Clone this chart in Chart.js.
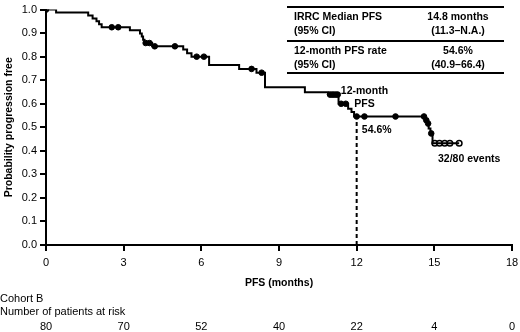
<!DOCTYPE html>
<html>
<head>
<meta charset="utf-8">
<script src="https://cdn.jsdelivr.net/npm/chart.js@4.4.1/dist/chart.umd.min.js"></script>
<style>
  body { margin: 0; background: #fff; }
  #wrap { width: 520px; height: 332px; position: relative; }
</style>
</head>
<body>
<div id="wrap"><canvas id="pfsChart"></canvas></div>
<script>
// Kaplan-Meier steps (months, survival after the drop)
var stepTimes = [0, 0.39, 1.63, 1.8, 1.95, 2.05, 2.15, 3.24, 3.63, 3.7, 3.75, 3.8, 4.1, 5.3, 5.45, 5.62, 6.3, 7.46, 8.13, 8.46, 10.0, 10.9, 11.3, 11.67, 11.8, 11.9, 14.66, 14.72, 14.78, 14.85, 14.93, 15.96];
var stepSurv = [1.0, 0.9875, 0.975, 0.9625, 0.95, 0.9375, 0.925, 0.912, 0.899, 0.886, 0.872, 0.858, 0.844, 0.83, 0.815, 0.80, 0.765, 0.748, 0.732, 0.67, 0.649, 0.639, 0.60, 0.579, 0.565, 0.546, 0.530, 0.516, 0.495, 0.474, 0.432, 0.432];

// censored patients
var censorFilled = [0, 2.54, 2.79, 3.85, 4.0, 4.2, 4.98, 5.82, 6.1, 7.94, 8.33, 10.97, 11.05, 11.12, 11.2, 11.27, 11.4, 11.58, 12.0, 12.3, 13.5, 14.6, 14.69, 14.76, 14.88];
var censorOpen = [15.02, 15.2, 15.4, 15.6, 15.96];

// 12-month landmark
var landmarkTime = 12;
var landmarkSurv = 0.546;

// number at risk
var riskTimes = [0, 3, 6, 9, 12, 15, 18];
var riskCounts = [80, 70, 52, 40, 22, 4, 0];

var tableRows = [
  ['IRRC Median PFS', '(95% CI)', '14.8 months', '(11.3\u2013N.A.)'],
  ['12-month PFS rate', '(95% CI)', '54.6%', '(40.9\u201366.4)']
];

function survAt(t) {
  var s = 1;
  for (var i = 0; i < stepTimes.length; i++) {
    if (stepTimes[i] <= t) s = stepSurv[i];
  }
  return s;
}

var curve = stepTimes.map(function (t, i) { return { x: t, y: stepSurv[i] }; });
var filledPts = censorFilled.map(function (t) { return { x: t, y: survAt(t) }; });
var openPts = censorOpen.map(function (t) { return { x: t, y: survAt(t) }; });

var FONT = '"Liberation Sans", Arial, Helvetica, sans-serif';

var extras = {
  id: 'extras',
  afterDraw: function (chart) {
    var ctx = chart.ctx;
    var xs = chart.scales.x, ys = chart.scales.y;
    ctx.save();
    ctx.fillStyle = '#000';
    ctx.textBaseline = 'middle';

    // x axis title
    ctx.font = 'bold 10.5px ' + FONT;
    ctx.textAlign = 'center';
    ctx.fillText('PFS (months)', (chart.chartArea.left + chart.chartArea.right) / 2, 283);

    // annotations
    ctx.fillText('12-month', xs.getPixelForValue(12.3), ys.getPixelForValue(0.653));
    ctx.fillText('PFS', xs.getPixelForValue(12.3), ys.getPixelForValue(0.598));
    ctx.textAlign = 'left';
    ctx.fillText('54.6%', xs.getPixelForValue(12.2), ys.getPixelForValue(0.49));
    ctx.fillText('32/80 events', xs.getPixelForValue(15.14), ys.getPixelForValue(0.364));

    // risk table
    ctx.font = '11px ' + FONT;
    ctx.fillText('Cohort B', 0, 299);
    ctx.fillText('Number of patients at risk', 0, 312);
    ctx.textAlign = 'center';
    riskTimes.forEach(function (t, i) {
      ctx.fillText(String(riskCounts[i]), xs.getPixelForValue(t), 327);
    });

    // summary box
    ctx.strokeStyle = '#000';
    ctx.lineWidth = 2;
    [7, 41, 73].forEach(function (y) {
      ctx.beginPath();
      ctx.moveTo(287, y);
      ctx.lineTo(504, y);
      ctx.stroke();
    });
    ctx.font = 'bold 10.5px ' + FONT;
    tableRows.forEach(function (row, r) {
      var y0 = 17 + r * 34;
      ctx.textAlign = 'left';
      ctx.fillText(row[0], 294, y0);
      ctx.fillText(row[1], 294, y0 + 14);
      ctx.textAlign = 'center';
      ctx.fillText(row[2], 458, y0);
      ctx.fillText(row[3], 458, y0 + 14);
    });
    ctx.restore();
  }
};

var ctx = document.getElementById('pfsChart').getContext('2d');
var pfsChart = new Chart(ctx, {
  type: 'line',
  data: {
    datasets: [{
      data: curve,
      stepped: true,
      borderColor: '#000',
      borderWidth: 2,
      pointRadius: 0,
      fill: false
    }, {
      data: [{ x: landmarkTime, y: 0 }, { x: landmarkTime, y: landmarkSurv }],
      borderColor: '#000',
      borderWidth: 2,
      borderDash: [4, 3],
      pointRadius: 0,
      fill: false
    }, {
      type: 'scatter',
      data: filledPts,
      pointRadius: 2.8,
      pointBackgroundColor: '#000',
      pointBorderColor: '#000',
      pointBorderWidth: 1
    }, {
      type: 'scatter',
      data: openPts,
      pointRadius: 2.8,
      pointBackgroundColor: '#fff',
      pointBorderColor: '#000',
      pointBorderWidth: 1.5
    }]
  },
  options: {
    responsive: true,
    maintainAspectRatio: false,
    animation: false,
    layout: {
      padding: { top: 6, right: 8, left: 0, bottom: 0 }
    },
    plugins: {
      legend: {
        display: false
      },
      tooltip: {
        enabled: false
      }
    },
    scales: {
      x: {
        type: 'linear',
        min: 0,
        max: 18,
        afterFit: function (scale) {
          scale.height = 87;
          scale.paddingRight = 0;
          scale.paddingLeft = 0;
        },
        ticks: {
          stepSize: 3,
          color: '#000',
          font: { family: FONT, size: 11 },
          padding: 5
        },
        grid: {
          drawOnChartArea: false,
          drawTicks: true,
          tickLength: 6,
          color: '#000',
          lineWidth: 2
        },
        border: {
          color: '#000',
          width: 2
        }
      },
      y: {
        min: 0,
        max: 1,
        afterFit: function (scale) { scale.width = 46; },
        ticks: {
          stepSize: 0.1,
          color: '#000',
          font: { family: FONT, size: 11 },
          padding: 3,
          callback: function (v) { return v.toFixed(1); }
        },
        grid: {
          drawOnChartArea: false,
          drawTicks: true,
          tickLength: 6,
          color: '#000',
          lineWidth: 2
        },
        border: {
          color: '#000',
          width: 2
        },
        title: {
          display: true,
          text: 'Probability progression free',
          color: '#000',
          font: { family: FONT, size: 10.5, weight: 'bold' },
          padding: { top: 3, bottom: 0 }
        }
      }
    }
  },
  plugins: [extras]
});
</script>
</body>
</html>
